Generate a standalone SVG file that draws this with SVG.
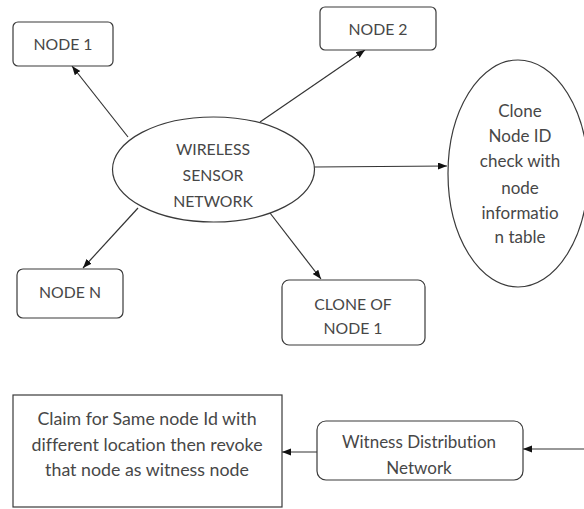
<svg xmlns="http://www.w3.org/2000/svg" width="584" height="509" viewBox="0 0 584 509">
<style>
.box{fill:#fff;stroke:#3a3a3a;stroke-width:1.2}
.t{font-family:Lato,"Liberation Sans",sans-serif;font-size:17px;fill:#474747;text-anchor:middle;dominant-baseline:central;font-variant-ligatures:none}
.u{font-size:15.8px}
.l{font-size:17.8px}
.c{stroke:#333;stroke-width:1.2;fill:none;marker-end:url(#ah)}
</style>
<defs>
<marker id="ah" markerUnits="userSpaceOnUse" markerWidth="10" markerHeight="8" refX="9" refY="3.5" orient="auto">
<path d="M0,0 L9,3.5 L0,7 z" fill="#111"/>
</marker>
</defs>
<rect width="584" height="509" fill="#fff"/>
<g id="connectors">
<line class="c" x1="128" y1="137" x2="72" y2="66"/>
<line class="c" x1="260" y1="122" x2="365" y2="50"/>
<line class="c" x1="314" y1="167" x2="447" y2="166"/>
<line class="c" x1="138" y1="208" x2="83" y2="268"/>
<line class="c" x1="270" y1="213" x2="321" y2="279"/>
<line class="c" x1="317" y1="452" x2="282" y2="452"/>
<line class="c" x1="584" y1="449" x2="523" y2="449"/>
</g>
<g id="node1">
<rect class="box" x="13" y="22" width="100" height="44" rx="5"/>
<text class="t u" x="63" y="43">NODE 1</text>
</g>
<g id="node2">
<rect class="box" x="320" y="7" width="116" height="43" rx="5"/>
<text class="t u" x="378" y="28">NODE 2</text>
</g>
<g id="wsn">
<ellipse class="box" cx="213.5" cy="169.5" rx="101" ry="52.5"/>
<text class="t u" x="213" y="148">WIRELESS</text>
<text class="t u" x="213" y="174">SENSOR</text>
<text class="t u" x="213" y="200">NETWORK</text>
</g>
<g id="clonecheck">
<ellipse class="box" cx="518" cy="173.5" rx="70" ry="113.5"/>
<text class="t" x="520" y="110">Clone</text>
<text class="t" x="520" y="135">Node ID</text>
<text class="t" x="520" y="160">check with</text>
<text class="t" x="520" y="187">node</text>
<text class="t" x="520" y="212">informatio</text>
<text class="t" x="520" y="236">n table</text>
</g>
<g id="nodeN">
<rect class="box" x="17" y="269" width="106" height="49" rx="6"/>
<text class="t u" x="70" y="291">NODE N</text>
</g>
<g id="cloneof">
<rect class="box" x="282" y="280" width="143" height="65" rx="7"/>
<text class="t u" x="353" y="303">CLONE OF</text>
<text class="t u" x="353" y="327">NODE 1</text>
</g>
<g id="claim">
<rect class="box" x="13" y="395" width="269" height="112"/>
<text class="t l" x="147" y="418">Claim for Same node Id with</text>
<text class="t l" x="147" y="444">different location then revoke</text>
<text class="t l" x="147" y="469">that node as witness node</text>
</g>
<g id="witness">
<rect class="box" x="317" y="421" width="206" height="59" rx="9"/>
<text class="t" x="419" y="441">Witness Distribution</text>
<text class="t" x="419" y="467">Network</text>
</g>
</svg>
